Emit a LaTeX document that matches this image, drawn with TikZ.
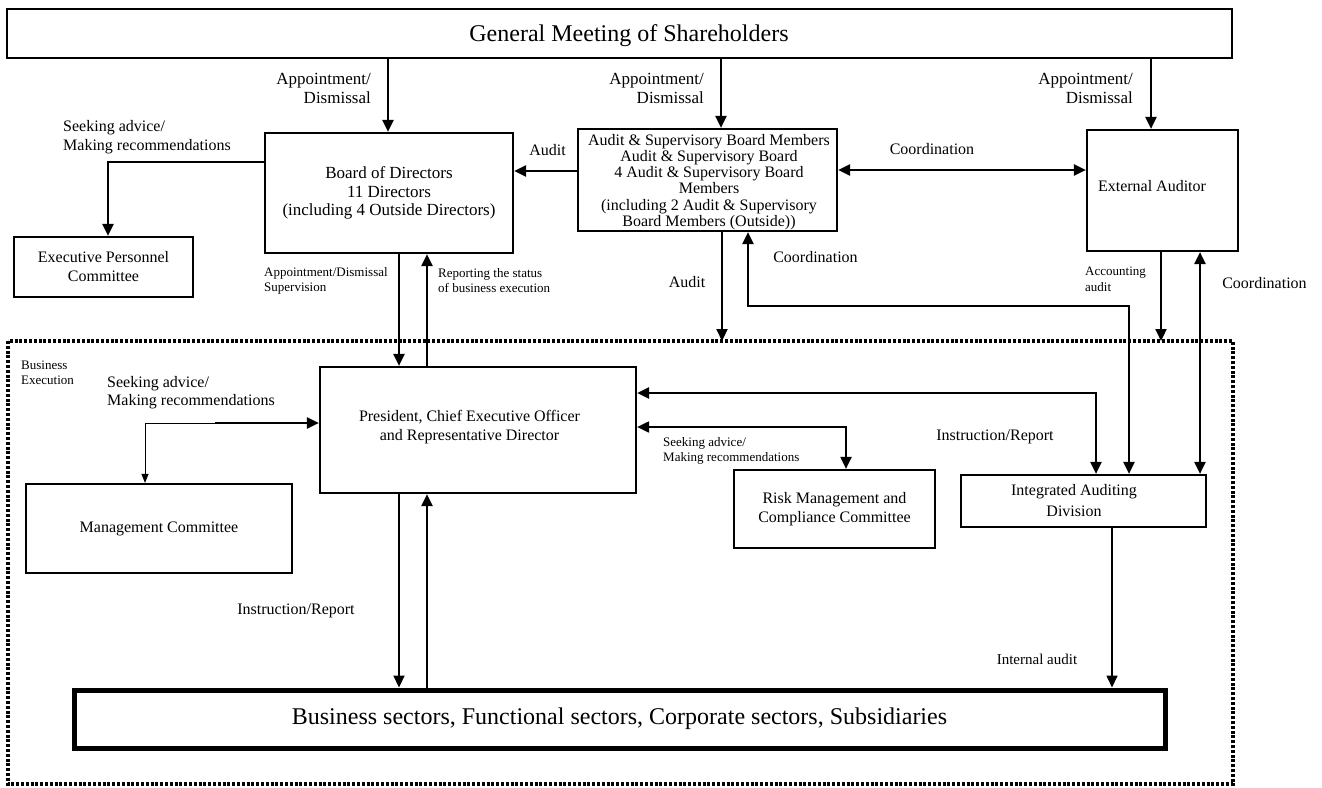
\documentclass[tikz,border=0pt]{standalone}
\usepackage{fontspec}
\setmainfont{Liberation Serif}
\usetikzlibrary{arrows.meta,calc}
\newcommand{\fsz}[2]{\fontsize{#1}{#2}\selectfont}
\begin{document}
\begin{tikzpicture}[x=1pt,y=-1pt,
  box/.style={draw, line width=2.2pt, inner sep=0pt, align=center},
  lbl/.style={inner sep=0pt, align=center},
  conn/.style={line width=2.2pt},
  arr/.style={conn, -{Triangle[length=12pt,width=11pt]}},
  arrtwo/.style={conn, {Triangle[length=12pt,width=11pt]}-{Triangle[length=12pt,width=11pt]}},
  thinarr/.style={line width=1pt, -{Triangle[length=9pt,width=7pt]}},
]
\useasboundingbox (0,0) rectangle (1322,787);
\fill[white] (0,0) rectangle (1322,787);

% dotted business execution frame
\draw[line width=3.2pt, dash pattern=on 3pt off 1.8pt] (8,341) rectangle (1233,784);
\coordinate (frameA) at (722,341);
\coordinate (frameB) at (1161,341);

% boxes
\node[box, minimum width=1225pt, minimum height=49pt] (gm) at (619.5,33.5) {};
\node[lbl, font=\fsz{24}{28}] (gmtext) at (629,36) {General Meeting of Shareholders};

\node[box, minimum width=248pt, minimum height=120pt, font=\fsz{17}{18.5}] (bod) at (389,193)
  {Board of Directors\\11 Directors\\(including 4 Outside Directors)};

\node[box, minimum width=259pt, minimum height=102pt] (asb) at (707.5,180) {};
\node[lbl, font=\fsz{16}{16.2}] (asbtext) at (709,182)
  {Audit \& Supervisory Board Members\\Audit \& Supervisory Board\\4 Audit \& Supervisory Board\\Members\\(including 2 Audit \& Supervisory\\Board Members (Outside))};

\node[box, minimum width=151pt, minimum height=121pt] (ext) at (1162.5,190.5) {};
\node[lbl, font=\fsz{16}{19}] (exttext) at (1152,186) {External Auditor};

\node[box, minimum width=179pt, minimum height=60pt, font=\fsz{16}{19}] (epc) at (103.5,267)
  {Executive Personnel\\Committee};

\node[box, minimum width=316pt, minimum height=126pt] (pres) at (478,430) {};
\node[lbl, font=\fsz{16}{19}] (prestext) at (469.5,427)
  {President, Chief Executive Officer\\and Representative Director};

\node[box, minimum width=266pt, minimum height=89pt, font=\fsz{16}{19}] (mc) at (159,528.5)
  {Management Committee};

\node[box, minimum width=201pt, minimum height=78pt, font=\fsz{16}{18.5}] (risk) at (834.5,509)
  {Risk Management and\\Compliance Committee};

\node[box, minimum width=245pt, minimum height=52pt] (iad) at (1083.5,501) {};
\node[lbl, font=\fsz{16}{21}] (iadtext) at (1074,501) {Integrated Auditing\\Division};

\node[box, line width=5pt, minimum width=1091pt, minimum height=58pt, font=\fsz{24}{28}] (bs) at (619.5,719)
  {Business sectors, Functional sectors, Corporate sectors, Subsidiaries};

% connectors: General Meeting
\draw[arr] (388,0 |- gm.south) -- (388,0 |- bod.north);
\node[lbl, align=right, anchor=east, font=\fsz{17}{19}] (l1) at (371,88) {Appointment/\\Dismissal};
\draw[arr] (721,0 |- gm.south) -- (721,0 |- asb.north);
\node[lbl, align=right, anchor=east, font=\fsz{17}{19}] (l2) at (704,88) {Appointment/\\Dismissal};
\draw[arr] (1151,0 |- gm.south) -- (1151,0 |- ext.north);
\node[lbl, align=right, anchor=east, font=\fsz{17}{19}] (l3) at (1133,88) {Appointment/\\Dismissal};

% audit -> board
\draw[arr] (0,171 -| asb.west) -- (0,171 -| bod.east);
\node[lbl, font=\fsz{16}{19}] (l4) at (547.5,150) {Audit};

% board -> exec personnel
\draw[arr] (0,162 -| bod.west) -| (108,0 |- epc.north);
\node[lbl, align=left, anchor=west, font=\fsz{16}{19}] (l5) at (63,137) {Seeking advice/\\Making recommendations};

% audit <-> external
\draw[arrtwo] (0,170 -| asb.east) -- (0,170 -| ext.west);
\node[lbl, font=\fsz{16}{19}] (l6) at (932,149) {Coordination};

% board <-> president
\draw[arr] (399,0 |- bod.south) -- (399,0 |- pres.north);
\draw[arr] (427,0 |- pres.north) -- (427,0 |- bod.south);
\node[lbl, align=left, anchor=west, font=\fsz{13}{15}] (l7) at (264,281) {Appointment/Dismissal\\Supervision};
\node[lbl, align=left, anchor=west, font=\fsz{13}{15}] (l8) at (438,281) {Reporting the status\\of business execution};

% audit down to frame
\draw[arr] (722,0 |- asb.south) -- (frameA);
\node[lbl, font=\fsz{16}{19}] (l9) at (687,282) {Audit};

% audit <-> integrated auditing
\draw[arrtwo] (748,0 |- asb.south) -- (748,306) -| (1129,0 |- iad.north);
\node[lbl, font=\fsz{16}{19}] (l10) at (815.5,257) {Coordination};

% external accounting audit
\draw[arr] (1161,0 |- ext.south) -- (frameB);
\node[lbl, align=left, anchor=west, font=\fsz{13}{16}] (l11) at (1085,279) {Accounting\\audit};

% external <-> integrated
\draw[arrtwo] (1200,0 |- ext.south) -- (1200,0 |- iad.north);
\node[lbl, font=\fsz{16}{19}] (l12) at (1264.5,283) {Coordination};

% business execution label
\node[lbl, align=left, anchor=west, font=\fsz{13}{15}] (l13) at (21,373) {Business\\Execution};

% management committee
\coordinate (mcj) at (215,423);
\draw[arr] (mcj) -- (0,423 -| pres.west);
\draw[thinarr] (mcj) -| (145,0 |- mc.north);
\node[lbl, align=left, anchor=west, font=\fsz{16}{18}] (l14) at (107,393) {Seeking advice/\\Making recommendations};

% president <-> integrated auditing
\draw[arrtwo] (0,393 -| pres.east) -| (1096,0 |- iad.north);
\node[lbl, font=\fsz{16}{19}] (l15) at (995,437) {Instruction/Report};

% president <-> risk
\draw[arrtwo, line width=2pt] (0,427 -| pres.east) -| (846,0 |- risk.north);
\node[lbl, align=left, anchor=west, font=\fsz{13}{15}] (l16) at (663,451) {Seeking advice/\\Making recommendations};

% president <-> business sectors
\draw[arr] (399,0 |- pres.south) -- (399,0 |- bs.north);
\draw[arr] (427,0 |- bs.north) -- (427,0 |- pres.south);
\node[lbl, font=\fsz{16}{19}] (l17) at (296,611) {Instruction/Report};

% internal audit
\draw[arr, line width=1.6pt] (1112,0 |- iad.south) -- (1112,0 |- bs.north);
\node[lbl, font=\fsz{15}{18}] (l18) at (1037,659) {Internal audit};
\end{tikzpicture}
\end{document}
